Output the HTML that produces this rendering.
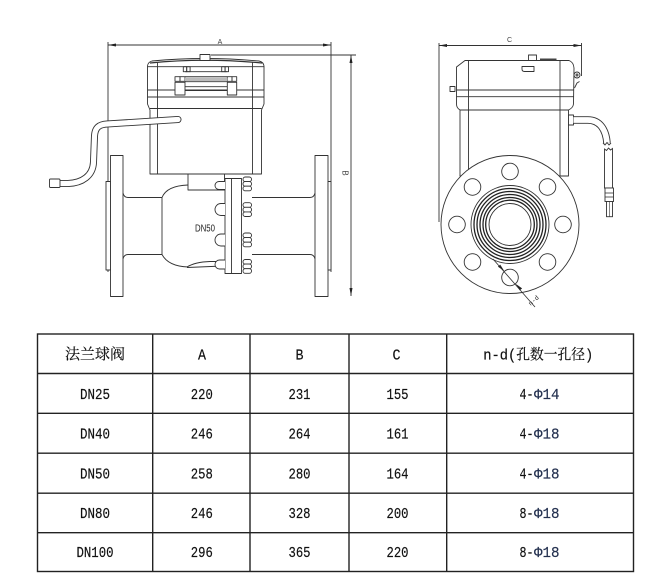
<!DOCTYPE html>
<html><head><meta charset="utf-8"><style>
html,body{margin:0;padding:0;background:#fff;}
svg{display:block;}
</style></head><body>
<svg width="670" height="587" viewBox="0 0 670 587" xmlns="http://www.w3.org/2000/svg">
<rect width="670" height="587" fill="#fff"/>

<!-- ================= LEFT VIEW ================= -->
<g fill="none" stroke="#333" stroke-width="0.9" stroke-linejoin="round">
  <line x1="108" y1="45" x2="331" y2="45"/>
  <line x1="108" y1="42" x2="108" y2="272"/>
  <line x1="331" y1="42" x2="331" y2="272"/>
  <line x1="211" y1="55" x2="356" y2="55"/>
  <line x1="351" y1="55" x2="351" y2="296"/>

  <rect x="110.5" y="155.5" width="12.5" height="141" fill="#fff"/>
  <rect x="106" y="181.5" width="4.5" height="88.5" fill="#fff"/>
  <rect x="315" y="155.5" width="13" height="141" fill="#fff"/>
  <rect x="328" y="181.5" width="3" height="88.5" fill="#fff"/>

  <path d="M123,193 Q124,197.5 128,197.5 L162,197.5"/>
  <path d="M123,259 Q124,254.5 128,254.5 L162,254.5"/>
  <path d="M252,197.5 L310,197.5 Q314,197.5 315,193"/>
  <path d="M252,254.5 L310,254.5 Q314,254.5 315,259"/>

  <line x1="162" y1="197.5" x2="162" y2="254.5"/>
  <path d="M162,197.5 C165,190 174,185.5 188,185"/>
  <path d="M162,254.5 C166,262 175,266.5 188,267"/>
  <path d="M187,267 Q195,262 210,261.5 L222,261.5"/>
  <path d="M187,267.5 L223,266"/>

  <rect x="188" y="174" width="36.5" height="16" fill="#fff"/>

  <rect x="225" y="178.5" width="16.5" height="95" fill="#fff"/>
  <line x1="231.5" y1="178.5" x2="231.5" y2="273.5"/>

  <path d="M225,181.5 L219,181.5 A4,4 0 0 0 219,189.5 L225,189.5" fill="#fff"/>
  <path d="M225,203.5 L221,203.5 A6,6 0 0 0 221,215.5 L225,215.5" fill="#fff"/>
  <path d="M225,234 L221,234 A6,6 0 0 0 221,246 L225,246" fill="#fff"/>
  <path d="M225,260 L219.5,260 A4.5,4.5 0 0 0 219.5,269 L225,269" fill="#fff"/>

  <g fill="#fff">
    <rect x="243" y="177" width="8.5" height="4.6" rx="2.2"/>
    <rect x="243" y="181.6" width="8.5" height="4.6" rx="2.2"/>
    <rect x="243" y="186.2" width="8.5" height="4.6" rx="2.2"/>
    <rect x="243" y="202.7" width="8.5" height="4.6" rx="2.2"/>
    <rect x="243" y="207.3" width="8.5" height="4.6" rx="2.2"/>
    <rect x="243" y="211.9" width="8.5" height="4.6" rx="2.2"/>
    <rect x="243" y="233" width="8.5" height="4.6" rx="2.2"/>
    <rect x="243" y="237.6" width="8.5" height="4.6" rx="2.2"/>
    <rect x="243" y="242.2" width="8.5" height="4.6" rx="2.2"/>
    <rect x="243" y="259.5" width="8.5" height="4.6" rx="2.2"/>
    <rect x="243" y="264.1" width="8.5" height="4.6" rx="2.2"/>
    <rect x="243" y="268.7" width="8.5" height="4.6" rx="2.2"/>
  </g>

  <rect x="150" y="108.5" width="111.5" height="65.5" fill="#fff"/>
  <path d="M150,110 L147.5,104 L147.5,66 Q148,62 152,61 Q205,56 259,61 Q263.5,62 264,66 L264,104 L261.5,110" fill="#fff"/>
  <path d="M150,63 Q205,57.5 262,63" stroke-width="1.3"/>
  <line x1="147.5" y1="66.7" x2="264" y2="66.7"/>
  <line x1="147.5" y1="90" x2="264" y2="90"/>
  <line x1="147.5" y1="97" x2="264" y2="97"/>
  <line x1="150" y1="108.5" x2="261.5" y2="108.5"/>
  <line x1="157.5" y1="62" x2="157.5" y2="174"/>
  <line x1="252.5" y1="62" x2="252.5" y2="174"/>
  <rect x="183.3" y="66.7" width="3.4" height="5"/>
  <rect x="186.7" y="66.7" width="3.4" height="5"/>
  <rect x="221.7" y="66.7" width="3.4" height="5"/>
  <rect x="225.1" y="66.7" width="3.4" height="5"/>
  <rect x="175" y="76.7" width="5" height="4.6"/>
  <rect x="180" y="76.7" width="5" height="4.6"/>
  <rect x="227.3" y="76.7" width="4.7" height="4.6"/>
  <rect x="232" y="76.7" width="4.7" height="4.6"/>
  <rect x="175" y="82.3" width="10" height="12.7" fill="#fff"/>
  <rect x="227.3" y="82.3" width="9.4" height="12.7" fill="#fff"/>
  <line x1="185" y1="71.7" x2="227.3" y2="71.7"/>
  <line x1="185" y1="76.7" x2="227.3" y2="76.7"/>
  <line x1="185" y1="81.7" x2="227.3" y2="81.7"/>
  <line x1="185" y1="86.7" x2="227.3" y2="86.7"/>
  <line x1="185" y1="90.5" x2="227.3" y2="90.5"/>
  <rect x="185" y="77.5" width="42.3" height="3.5" fill="#bbb" stroke="none"/>
  <rect x="200" y="54.5" width="10" height="6" fill="#fff"/>
</g>

<path d="M178,119.5 L107,124 C99,124.5 95,127.5 94.5,136 L93.5,162 C93,176 82,183 68,183.5 L60,183.5" fill="none" stroke="#333" stroke-width="7" stroke-linecap="round"/>
<path d="M178,119.5 L107,124 C99,124.5 95,127.5 94.5,136 L93.5,162 C93,176 82,183 68,183.5 L60,183.5" fill="none" stroke="#fff" stroke-width="5.2" stroke-linecap="round"/>
<rect x="49.5" y="179" width="10.5" height="8.5" rx="1" fill="#fff" stroke="#333" stroke-width="0.9"/>

<text x="205" y="231.5" font-family="Liberation Sans, sans-serif" font-size="10" text-anchor="middle" fill="#222" textLength="20" lengthAdjust="spacingAndGlyphs">DN50</text>

<g fill="#222" stroke="none">
  <path d="M108,45 L116,43.5 L116,46.5Z"/>
  <path d="M331,45 L323,43.5 L323,46.5Z"/>
  <path d="M351,55 L349.5,63 L352.5,63Z"/>
  <path d="M351,296 L349.5,288 L352.5,288Z"/>
</g>
<text x="220" y="44" font-family="Liberation Sans, sans-serif" font-size="7" text-anchor="middle" fill="#444">A</text>
<text transform="translate(342.5,173) rotate(90)" font-family="Liberation Sans, sans-serif" font-size="8" text-anchor="middle" fill="#444">B</text>

<!-- ================= RIGHT VIEW ================= -->
<g fill="none" stroke="#333" stroke-width="0.9" stroke-linejoin="round">
  <line x1="439" y1="45.5" x2="581.5" y2="45.5"/>
  <line x1="439" y1="43" x2="439" y2="222"/>
  <line x1="581.5" y1="43" x2="581.5" y2="76"/>

  <rect x="460" y="110" width="108.5" height="66" fill="#fff"/>
  <path d="M460,110 Q456.5,108 456.5,104 L456.5,67 L465,60.5 L569,60.5 Q573.5,62 574,68 L573.5,104 Q573,108 568.5,110" fill="#fff"/>
  <line x1="456.5" y1="90" x2="573.5" y2="90"/>
  <line x1="456.5" y1="96.7" x2="573.5" y2="96.7"/>
  <line x1="460" y1="110" x2="568.5" y2="110"/>
  <line x1="468.5" y1="60.5" x2="468.5" y2="176"/>
  <line x1="560" y1="60.5" x2="560" y2="176"/>
  <rect x="528.5" y="55" width="8" height="5.5" fill="#fff"/>
  <path d="M522,66.5 L534,66.5 L534,71.5 L524.5,71.5 Q522,71.5 522,69 Z" fill="#fff"/>
  <circle cx="577" cy="75" r="3" fill="#fff"/>
  <circle cx="577" cy="75" r="1"/>
  <path d="M574.5,88 L577,83 L579.5,81.5"/>
  <rect x="450" y="86.5" width="5" height="5" fill="#fff"/>
  <rect x="568.5" y="115" width="5" height="10" fill="#fff"/>
</g>
<rect x="540" y="58.5" width="16.5" height="2" fill="#444"/>

<path d="M573.5,120 L588,120 C600,120 606,130 607,143" fill="none" stroke="#333" stroke-width="7.5"/>
<path d="M573.5,120 L588,120 C600,120 606,130 607,143" fill="none" stroke="#fff" stroke-width="5.7"/>
<path d="M603,143 L605,145 L607,142.5 L609,145 L611,143" fill="none" stroke="#333" stroke-width="0.9"/>
<g fill="#fff" stroke="#333" stroke-width="0.9">
  <path d="M604.5,188 L604.5,149 L606.5,150.5 L608.5,148 L610.5,150 L612.5,148.5 L612.5,188 Z"/>
  <rect x="605" y="188" width="8.5" height="13.5"/>
  <rect x="606.5" y="201.5" width="6" height="15.2"/>
</g>
<line x1="605" y1="193" x2="613.5" y2="193" stroke="#333" stroke-width="0.8"/>
<line x1="605" y1="197" x2="613.5" y2="197" stroke="#333" stroke-width="0.8"/>
<line x1="609.5" y1="201.5" x2="609.5" y2="216.7" stroke="#333" stroke-width="0.6"/>

<g fill="#fff" stroke="#333" stroke-width="0.9">
  <circle cx="510" cy="224.5" r="69"/>
  <circle cx="510" cy="171.5" r="8.3"/>
  <circle cx="547.5" cy="187" r="8.3"/>
  <circle cx="563" cy="224.5" r="8.3"/>
  <circle cx="547.5" cy="262" r="8.3"/>
  <circle cx="510" cy="277.5" r="8.3"/>
  <circle cx="472.5" cy="262" r="8.3"/>
  <circle cx="457" cy="224.5" r="8.3"/>
  <circle cx="472.5" cy="187" r="8.3"/>
  <circle cx="510" cy="224.5" r="39"/>
</g>
<g fill="none" stroke="#222" stroke-width="1.3">
  <circle cx="510" cy="224.5" r="36"/>
  <circle cx="510" cy="224.5" r="33"/>
  <circle cx="510" cy="224.5" r="30"/>
  <circle cx="510" cy="224.5" r="27"/>
  <circle cx="510" cy="224.5" r="24.3"/>
</g>
<circle cx="510" cy="224.5" r="21" fill="#fff" stroke="#333" stroke-width="0.9"/>

<line x1="493" y1="259" x2="535" y2="307" stroke="#333" stroke-width="0.8"/>
<g fill="#222">
  <path d="M504.4,271.3 L497.9,266.6 L500.2,264.6Z"/>
  <path d="M515.6,283.7 L522.1,288.4 L519.8,290.4Z"/>
  <path d="M439,45.5 L447,44 L447,47Z"/>
  <path d="M581.5,45.5 L573.5,44 L573.5,47Z"/>
</g>
<text transform="translate(535,302) rotate(-42)" font-family="Liberation Mono, monospace" font-size="6.5" text-anchor="middle" fill="#333">n-d</text>
<text x="509.5" y="42" font-family="Liberation Sans, sans-serif" font-size="7" text-anchor="middle" fill="#444">C</text>

<!-- ================= TABLE ================= -->
<g stroke="#222" stroke-width="1.4" fill="none">
  <rect x="37.5" y="334" width="596" height="237.5"/>
  <line x1="37.5" y1="373.5" x2="633.5" y2="373.5"/>
  <line x1="37.5" y1="413.3" x2="633.5" y2="413.3"/>
  <line x1="37.5" y1="453.2" x2="633.5" y2="453.2"/>
  <line x1="37.5" y1="493.2" x2="633.5" y2="493.2"/>
  <line x1="37.5" y1="532.7" x2="633.5" y2="532.7"/>
  <line x1="152.7" y1="334" x2="152.7" y2="571.5"/>
  <line x1="250" y1="334" x2="250" y2="571.5"/>
  <line x1="349" y1="334" x2="349" y2="571.5"/>
  <line x1="446.7" y1="334" x2="446.7" y2="571.5"/>
</g>

<g font-family="Liberation Mono, 'Noto Serif CJK SC', monospace" font-size="14.5" fill="#111" stroke="#111" stroke-width="0.18" text-anchor="middle">
  <text x="95" y="359" font-family="'Noto Serif CJK SC', 'Noto Sans CJK SC', serif" font-size="15" textLength="60" lengthAdjust="spacingAndGlyphs">法兰球阀</text>
  <text x="202" y="359.5" textLength="8" lengthAdjust="spacingAndGlyphs">A</text>
  <text x="299.5" y="359.5" textLength="8" lengthAdjust="spacingAndGlyphs">B</text>
  <text x="396.5" y="359.5" textLength="8" lengthAdjust="spacingAndGlyphs">C</text>
  <text x="538.3" y="359.5" textLength="110" lengthAdjust="spacingAndGlyphs">n-d(孔数一孔径)</text>

  <text x="95" y="399" textLength="30" lengthAdjust="spacingAndGlyphs">DN25</text>
  <text x="201.8" y="399" textLength="22" lengthAdjust="spacingAndGlyphs">220</text>
  <text x="299.5" y="399" textLength="22" lengthAdjust="spacingAndGlyphs">231</text>
  <text x="397.5" y="399" textLength="22" lengthAdjust="spacingAndGlyphs">155</text>

  <text x="95" y="438.7" textLength="30" lengthAdjust="spacingAndGlyphs">DN40</text>
  <text x="201.8" y="438.7" textLength="22" lengthAdjust="spacingAndGlyphs">246</text>
  <text x="299.5" y="438.7" textLength="22" lengthAdjust="spacingAndGlyphs">264</text>
  <text x="397.5" y="438.7" textLength="22" lengthAdjust="spacingAndGlyphs">161</text>

  <text x="95" y="478.3" textLength="30" lengthAdjust="spacingAndGlyphs">DN50</text>
  <text x="201.8" y="478.3" textLength="22" lengthAdjust="spacingAndGlyphs">258</text>
  <text x="299.5" y="478.3" textLength="22" lengthAdjust="spacingAndGlyphs">280</text>
  <text x="397.5" y="478.3" textLength="22" lengthAdjust="spacingAndGlyphs">164</text>

  <text x="95" y="518" textLength="30" lengthAdjust="spacingAndGlyphs">DN80</text>
  <text x="201.8" y="518" textLength="22" lengthAdjust="spacingAndGlyphs">246</text>
  <text x="299.5" y="518" textLength="22" lengthAdjust="spacingAndGlyphs">328</text>
  <text x="397.5" y="518" textLength="22" lengthAdjust="spacingAndGlyphs">200</text>

  <text x="95" y="557" textLength="37" lengthAdjust="spacingAndGlyphs">DN100</text>
  <text x="201.8" y="557" textLength="22" lengthAdjust="spacingAndGlyphs">296</text>
  <text x="299.5" y="557" textLength="22" lengthAdjust="spacingAndGlyphs">365</text>
  <text x="397.5" y="557" textLength="22" lengthAdjust="spacingAndGlyphs">220</text>
</g>

<g font-family="Liberation Mono, monospace" font-size="14.5" stroke-width="0.18" text-anchor="start">
  <text x="519.5" y="399" fill="#111" stroke="#111" textLength="14" lengthAdjust="spacingAndGlyphs">4-</text>
  <text x="534" y="399" fill="#23304f" stroke="#23304f" textLength="25.5" lengthAdjust="spacingAndGlyphs">Φ14</text>
  <text x="519.5" y="438.7" fill="#111" stroke="#111" textLength="14" lengthAdjust="spacingAndGlyphs">4-</text>
  <text x="534" y="438.7" fill="#23304f" stroke="#23304f" textLength="25.5" lengthAdjust="spacingAndGlyphs">Φ18</text>
  <text x="519.5" y="478.3" fill="#111" stroke="#111" textLength="14" lengthAdjust="spacingAndGlyphs">4-</text>
  <text x="534" y="478.3" fill="#23304f" stroke="#23304f" textLength="25.5" lengthAdjust="spacingAndGlyphs">Φ18</text>
  <text x="519.5" y="518" fill="#111" stroke="#111" textLength="14" lengthAdjust="spacingAndGlyphs">8-</text>
  <text x="534" y="518" fill="#23304f" stroke="#23304f" textLength="25.5" lengthAdjust="spacingAndGlyphs">Φ18</text>
  <text x="519.5" y="557" fill="#111" stroke="#111" textLength="14" lengthAdjust="spacingAndGlyphs">8-</text>
  <text x="534" y="557" fill="#23304f" stroke="#23304f" textLength="25.5" lengthAdjust="spacingAndGlyphs">Φ18</text>
</g>
</svg>
</body></html>
